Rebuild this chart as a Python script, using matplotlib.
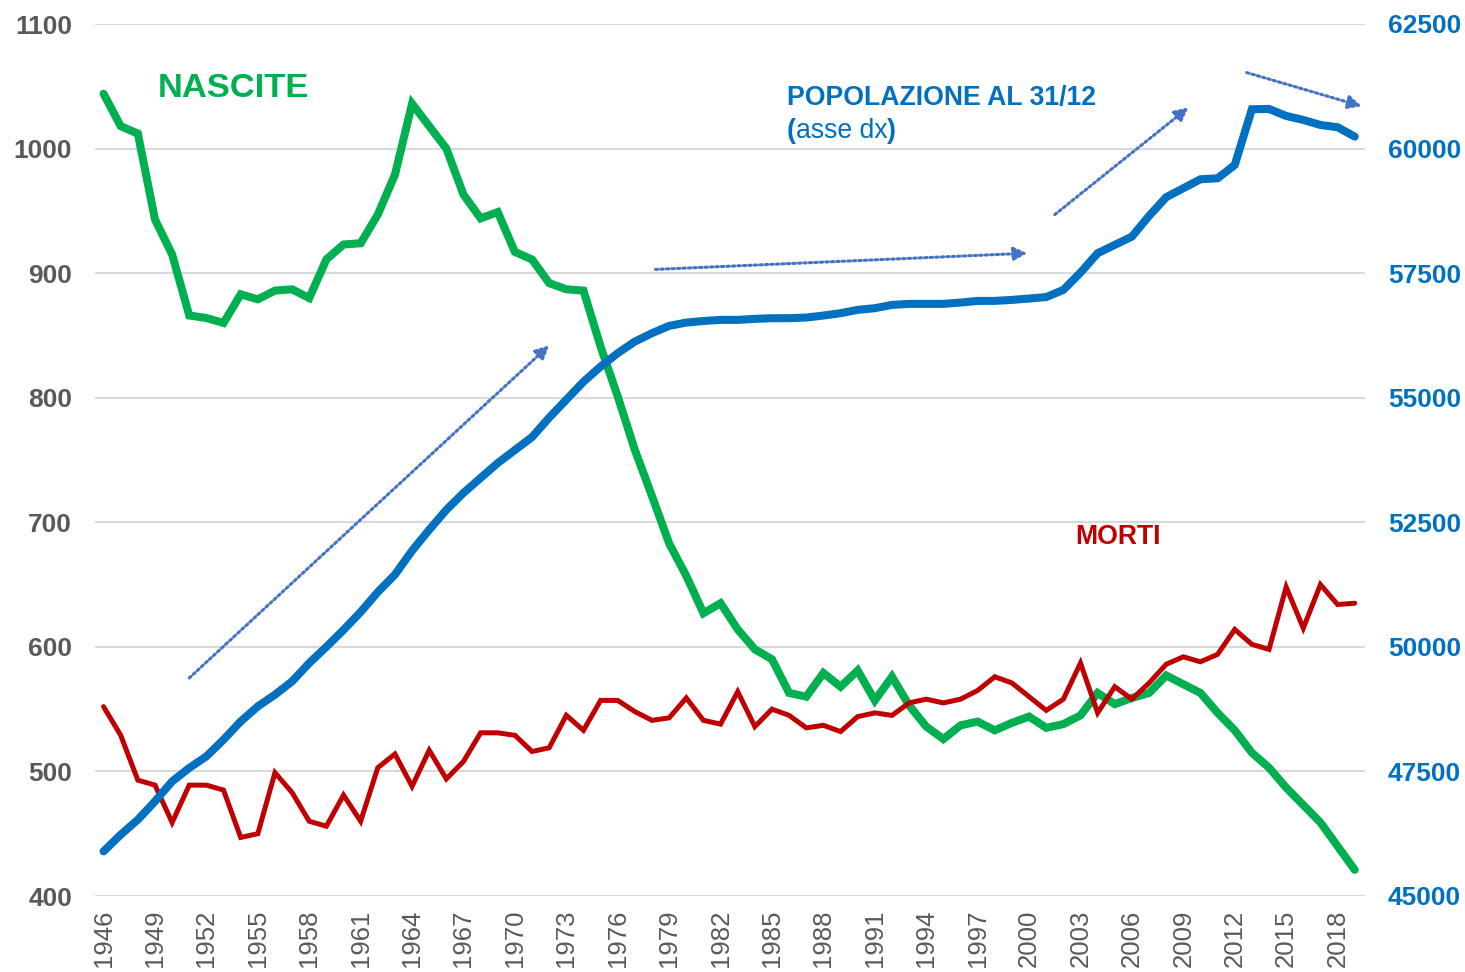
import matplotlib.pyplot as plt
from matplotlib.transforms import offset_copy

plt.rcParams['font.family'] = ['Liberation Sans', 'DejaVu Sans']

years = list(range(1946, 2020))

# nascite (migliaia)
nascite = [1044, 1018, 1012, 943, 915, 866, 864, 860, 883, 879, 886, 887, 880, 911, 923, 924,
           947, 979, 1036, 1018, 1000, 963, 944, 949, 917, 911, 892, 887, 886, 841, 801, 758,
           721, 683, 657, 627, 635, 614, 598, 590, 563, 560, 579, 568, 581, 557, 576, 553,
           536, 526, 537, 540, 533, 539, 544, 535, 538, 545, 563, 554, 559, 563, 577, 570,
           563, 547, 533, 515, 503, 487, 473, 459, 440, 421]

# morti (migliaia)
morti = [552, 529, 493, 489, 459, 489, 489, 485, 447, 450, 499, 483, 460, 456, 481, 460,
         503, 514, 488, 517, 494, 508, 531, 531, 529, 516, 519, 545, 533, 557, 557, 548,
         541, 543, 559, 541, 538, 564, 536, 550, 545, 535, 537, 532, 544, 547, 545, 555,
         558, 555, 558, 565, 576, 571, 560, 549, 558, 587, 547, 568, 558, 571, 586, 592,
         588, 594, 614, 602, 598, 648, 615, 650, 634, 635]

# popolazione al 31/12 (migliaia)
popolazione = [45896, 46231, 46532, 46900, 47300, 47570, 47803, 48137, 48504, 48805, 49040,
               49307, 49675, 50000, 50340, 50700, 51100, 51450, 51930, 52350, 52750, 53090,
               53390, 53690, 53950, 54210, 54600, 54960, 55320, 55625, 55894, 56127, 56295,
               56442, 56508, 56540, 56562, 56562, 56582, 56596, 56596, 56609, 56649, 56696,
               56763, 56797, 56863, 56883, 56883, 56883, 56910, 56943, 56943, 56963, 56990,
               57020, 57164, 57511, 57900, 58067, 58233, 58648, 59024, 59204, 59384, 59404,
               59671, 60789, 60795, 60655, 60574, 60474, 60428, 60240]

left_ticks = [400, 500, 600, 700, 800, 900, 1000, 1100]
right_ticks = [45000, 47500, 50000, 52500, 55000, 57500, 60000, 62500]
x_ticks = list(range(1946, 2019, 3))

# frecce tratteggiate (coordinate dati asse sx)
arrows = [((1951.0, 575), (1972.0, 842)),
          ((1978.2, 903), (1999.9, 916)),
          ((2001.5, 947), (2009.3, 1033)),
          ((2012.7, 1061), (2019.4, 1034))]

GREEN = '#00B050'
RED = '#C00000'
BLUE = '#0070C0'
GRAY = '#595959'

fig = plt.figure(figsize=(14.65, 9.72), dpi=100)
ax = fig.add_axes([95 / 1465, 1 - 896 / 972, (1365 - 95) / 1465, (896 - 24) / 972])
ax2 = ax.twinx()

ax.plot(years, nascite, color=GREEN, lw=5.8, solid_capstyle='round', solid_joinstyle='miter', zorder=3)
ax.plot(years, morti, color=RED, lw=3.6, solid_capstyle='round', solid_joinstyle='miter', zorder=4)
ax2.plot(years, popolazione, color=BLUE, lw=5.8, solid_capstyle='round', solid_joinstyle='miter')

for (x0, y0), (x1, y1) in arrows:
    ax.annotate('', xy=(x1, y1), xytext=(x0, y0),
                arrowprops=dict(arrowstyle='-|>,head_length=0.8,head_width=0.4', color='#4472C4',
                                lw=2.2, linestyle=(0, (0.8, 1.0)), shrinkA=0, shrinkB=0))

ax.set_xlim(1945.5, 2019.6)
ax.set_ylim(400, 1100)
ax2.set_ylim(45000, 62500)
ax.set_yticks(left_ticks)
ax2.set_yticks(right_ticks)
ax.set_xticks(x_ticks)
ax.set_xticklabels([str(y) for y in x_ticks], rotation=90, fontsize=18.5, color=GRAY)
ax.set_yticklabels([str(v) for v in left_ticks], fontsize=19, fontweight='bold', color=GRAY)
ax2.set_yticklabels([str(v) for v in right_ticks], fontsize=19, fontweight='bold', color=BLUE)

ax.grid(axis='y', color='#D9D9D9', lw=1.5)
ax.set_axisbelow(True)
for a in (ax, ax2):
    for s in a.spines.values():
        s.set_visible(False)
    a.tick_params(length=0)
ax.tick_params(axis='y', pad=16.5)
ax2.tick_params(axis='y', pad=16.5)
ax.tick_params(axis='x', pad=10)

ax.text(1949.15, 1048.6, 'NASCITE', color=GREEN, fontsize=24.8, fontweight='bold', va='center')
ax.text(1985.85, 1040.6, 'POPOLAZIONE AL 31/12', color=BLUE, fontsize=19.2, fontweight='bold', va='center')
ax.text(2002.7, 688.3, 'MORTI', color=RED, fontsize=19.2, fontweight='bold', va='center')

# "(asse dx)" con parentesi in grassetto
fig.canvas.draw()
renderer = fig.canvas.get_renderer()
tx, ty = 1985.85, 1014.5
t = ax.text(tx, ty, '(', color=BLUE, fontsize=19.2, fontweight='bold', va='center')
for piece, weight in [('asse dx', 'normal'), (')', 'bold')]:
    w = t.get_window_extent(renderer).width
    t = ax.text(tx, ty, piece, color=BLUE, fontsize=19.2, fontweight=weight, va='center',
                transform=offset_copy(t.get_transform(), fig=fig, x=w, units='dots'))

fig.savefig('out.png', dpi=100)
